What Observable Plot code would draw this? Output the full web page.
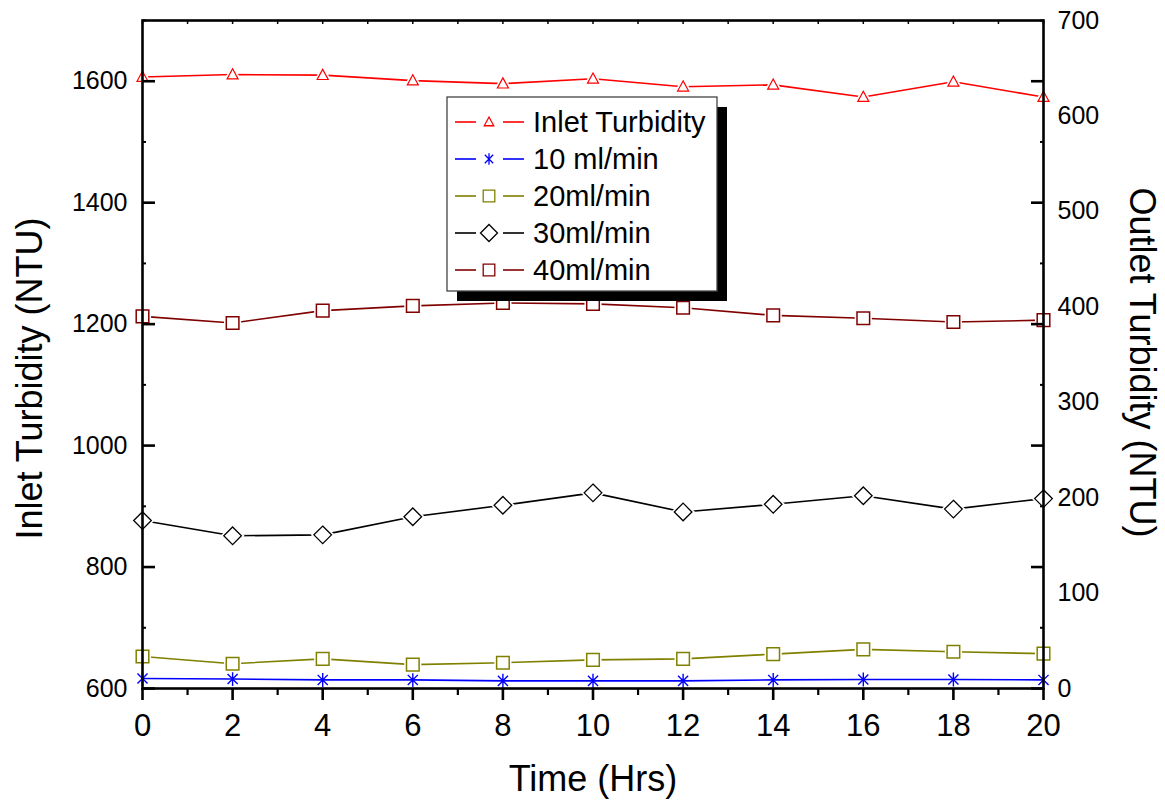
<!DOCTYPE html>
<html><head><meta charset="utf-8">
<script src="https://cdn.jsdelivr.net/npm/d3@7"></script>
<script src="https://cdn.jsdelivr.net/npm/@observablehq/plot@0.6"></script>
<style>
body{margin:0;background:#fff}
#chart svg{font-family:"Liberation Sans",Arial,sans-serif;overflow:visible}
</style>
</head><body><div id="chart"></div>
<script>
// ---- data ----
const hours = [0, 2, 4, 6, 8, 10, 12, 14, 16, 18, 20];
const inletTurbidity = [1607, 1611, 1610, 1601, 1596, 1604, 1591, 1594, 1574, 1599, 1574]; // left axis
const flow10 = [10.5, 10, 9, 9, 8, 8, 8, 9, 9.5, 9.5, 9];                 // right axis
const flow20 = [33.5, 26, 31, 25, 27, 30, 31, 36, 41, 38.5, 36.5];
const flow30 = [176, 160, 161, 180, 192, 205, 185, 193, 202, 188, 199];
const flow40 = [390, 383, 396, 401, 404, 403, 399, 391, 388, 384, 386];
const seriesNames = ["Inlet Turbidity", "10 ml/min", "20ml/min", "30ml/min", "40ml/min"];
const leftDomain = [600, 1700];
const rightDomain = [0, 700];
const leftMajorTicks = [600, 800, 1000, 1200, 1400, 1600];
const leftMinorTicks = [700, 900, 1100, 1300, 1500, 1700];
const rightTickLabels = [0, 100, 200, 300, 400, 500, 600, 700];
const xMajorTicks = [0, 2, 4, 6, 8, 10, 12, 14, 16, 18, 20];
const xMinorTicks = [1, 3, 5, 7, 9, 11, 13, 15, 17, 19];
const xTitle = "Time (Hrs)";
const yLeftTitle = "Inlet Turbidity (NTU)";
const yRightTitle = "Outlet Turbidity (NTU)";

// ---- symbols ----
const rOf = size => Math.sqrt(size / Math.PI);
const symSquare = {draw(c, s){ const r = rOf(s); c.rect(-r, -r, 2*r, 2*r); }};
const symDiamond = {draw(c, s){ const r = rOf(s); c.moveTo(0,-r); c.lineTo(r,0); c.lineTo(0,r); c.lineTo(-r,0); c.closePath(); }};
const symTriangle = {draw(c, s){ const r = rOf(s); c.moveTo(0,-r); c.lineTo(r*0.95, r*0.75); c.lineTo(-r*0.95, r*0.75); c.closePath(); }};
const symStar = {draw(c, s){ const r = rOf(s); const d = r*0.72;
  c.moveTo(0,-r); c.lineTo(0,r); c.moveTo(-d,-d); c.lineTo(d,d); c.moveTo(-d,d); c.lineTo(d,-d); }};

const toLeft = v => leftDomain[0] + (v - rightDomain[0]) * (leftDomain[1]-leftDomain[0]) / (rightDomain[1]-rightDomain[0]);
const fromLeft = y => rightDomain[0] + (y - leftDomain[0]) * (rightDomain[1]-rightDomain[0]) / (leftDomain[1]-leftDomain[0]);

const series = [
  {name: seriesNames[0], values: inletTurbidity, axis: "left", color: "#ff0000", symbol: symTriangle, r: 5.8, sw: 1.2, halo: true},
  {name: seriesNames[1], values: flow10, axis: "right", color: "#0000ff", symbol: symStar, r: 7, sw: 1.4, halo: false},
  {name: seriesNames[2], values: flow20, axis: "right", color: "#808000", symbol: symSquare, r: 6.3, sw: 1.5, halo: true},
  {name: seriesNames[3], values: flow30, axis: "right", color: "#000000", symbol: symDiamond, r: 8.8, sw: 1.3, halo: true},
  {name: seriesNames[4], values: flow40, axis: "right", color: "#800000", symbol: symSquare, r: 6.3, sw: 1.5, halo: true}
];
const rows = series.map(s => hours.map((h, i) => ({series: s.name, hour: h, y: s.axis === "left" ? s.values[i] : toLeft(s.values[i])})));

const seriesMarks = series.flatMap((s, k) => [
  Plot.line(rows[k], {x: "hour", y: "y", stroke: s.color, strokeWidth: 1.6}),
  s.halo ? Plot.dot(rows[k], {x: "hour", y: "y", symbol: s.symbol, r: s.r, stroke: "white", strokeWidth: 4.5, fill: "white"}) : null,
  Plot.dot(rows[k], {x: "hour", y: "y", symbol: s.symbol, r: s.r, stroke: s.color, strokeWidth: s.sw, fill: s.halo ? "white" : "none"})
]);

// legend drawn as a function mark
function legend(index, scales, values, dims) {
  const g = d3.create("svg:g");
  const bx = dims.marginLeft + 305, by = dims.marginTop + 77, bw = 270, bh = 194;
  g.append("rect").attr("x", bx + 10).attr("y", by + 10).attr("width", bw).attr("height", bh).attr("fill", "black");
  g.append("rect").attr("x", bx).attr("y", by).attr("width", bw).attr("height", bh).attr("fill", "white").attr("stroke", "#444").attr("stroke-width", 1.3);
  series.forEach((s, i) => {
    const cy = by + 25 + i * 37;
    const row = g.append("g");
    row.append("line").attr("x1", bx + 8).attr("x2", bx + 29).attr("y1", cy).attr("y2", cy).attr("stroke", s.color).attr("stroke-width", 1.6);
    row.append("line").attr("x1", bx + 56).attr("x2", bx + 77).attr("y1", cy).attr("y2", cy).attr("stroke", s.color).attr("stroke-width", 1.6);
    const rr = s.symbol === symDiamond ? 8.5 : (s.symbol === symTriangle ? 5 : 5.8);
    row.append("path").attr("transform", `translate(${bx + 42},${cy})`)
      .attr("d", d3.symbol(s.symbol, Math.PI * rr * rr)())
      .attr("fill", s.symbol === symStar ? "none" : "white").attr("stroke", s.color).attr("stroke-width", 1.3);
    row.append("text").attr("x", bx + 86).attr("y", cy).attr("dy", "0.36em")
      .attr("text-anchor", "start").attr("font-size", 29).attr("fill", "black").text(s.name);
  });
  return g.node();
}

const chart = Plot.plot({
  width: 1165,
  height: 805,
  marginLeft: 142,
  marginRight: 122,
  marginTop: 20,
  marginBottom: 117,
  x: {domain: [0, 20]},
  y: {domain: leftDomain},
  style: {fontFamily: "'Liberation Sans', Arial, sans-serif", color: "black", background: "white"},
  marks: [
    ...seriesMarks,
    Plot.frame({stroke: "black", strokeWidth: 2.6}),
    // left axis
    Plot.axisY(leftMajorTicks, {anchor: "left", tickSize: -13, tickPadding: 28, strokeWidth: 2.6, fontSize: 25, tickFormat: d => String(d), label: null}),
    Plot.axisY(leftMinorTicks, {anchor: "left", tickSize: -4, strokeWidth: 2, tickFormat: () => "", label: null}),
    // right axis: tick marks aligned with left ticks, labels on own scale
    Plot.axisY(leftMajorTicks, {anchor: "right", tickSize: -13, strokeWidth: 2.6, tickFormat: () => "", label: null}),
    Plot.axisY(leftMinorTicks, {anchor: "right", tickSize: -4, strokeWidth: 2, tickFormat: () => "", label: null}),
    Plot.axisY(rightTickLabels.map(toLeft), {anchor: "right", tickSize: 0, tickPadding: 14, fontSize: 25, tickFormat: d => String(Math.round(fromLeft(d))), label: null}),
    // x axis
    Plot.axisX(xMajorTicks, {anchor: "bottom", tickSize: 12, tickPadding: 13, strokeWidth: 2.6, fontSize: 31, tickFormat: d => String(d), label: null}),
    Plot.axisX(xMinorTicks, {anchor: "bottom", tickSize: 7, strokeWidth: 2.2, tickFormat: () => "", label: null}),
    Plot.axisX(xMajorTicks.concat(xMinorTicks), {anchor: "top", tickSize: -3, strokeWidth: 1.5, tickFormat: () => "", label: null}),
    // titles
    Plot.text([xTitle], {frameAnchor: "bottom", textAnchor: "middle", dy: 102, fontSize: 36, fill: "black"}),
    Plot.text([yLeftTitle], {frameAnchor: "left", textAnchor: "middle", rotate: -90, dx: -112, dy: 24, fontSize: 36, fill: "black"}),
    Plot.text([yRightTitle], {frameAnchor: "right", textAnchor: "middle", rotate: 90, dx: 98, dy: 8, fontSize: 36, fill: "black"}),
    legend
  ]
});
document.getElementById("chart").appendChild(chart);
</script>
</body></html>
